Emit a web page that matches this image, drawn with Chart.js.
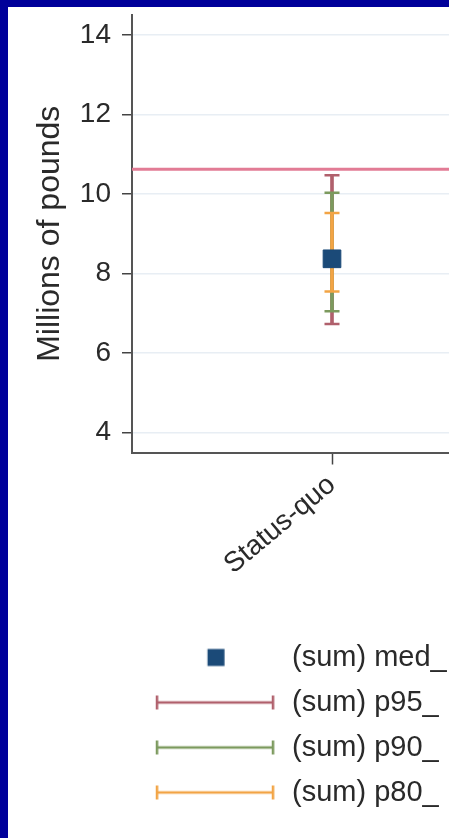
<!DOCTYPE html>
<html>
<head>
<meta charset="utf-8">
<script src="https://cdn.jsdelivr.net/npm/chart.js@4/dist/chart.umd.min.js"></script>
<style>
  html, body { margin: 0; padding: 0; overflow: hidden; background: #00009a; width: 449px; height: 838px; }
  #panel { position: absolute; left: 8px; top: 7px; width: 600px; height: 900px; background: #ffffff; }
  #c { position: absolute; left: 0; top: 0; }
</style>
</head>
<body>
<div id="panel"><canvas id="c" width="524" height="810"></canvas></div>
<script>
// ---- data ----
const categories = ['Status-quo'];
const medianValues = [8.37];
const p95Low = [6.73];
const p95High = [10.47];
const p90Low = [7.05];
const p90High = [10.03];
const p80Low = [7.55];
const p80High = [9.52];
const referenceValue = [10.62];
const yTickValues = [4, 6, 8, 10, 12, 14];
const legendLabels = ['(sum) med_', '(sum) p95_', '(sum) p90_', '(sum) p80_'];

// ---- styles ----
const colMed = '#1b4a78';
const colP95 = '#b0606c';
const colP90 = '#7c9a5e';
const colP80 = '#f2a445';
const colRef = '#e27b95';
const textCol = '#2a2a2a';
const fontFam = '"Liberation Sans", Arial, sans-serif';

function lineIcon(color) {
  const c = document.createElement('canvas');
  c.width = 130; c.height = 18;
  const g = c.getContext('2d');
  g.strokeStyle = color; g.lineWidth = 2.5;
  const x0 = 9.25, x1 = 125.25, y = 9;
  g.beginPath();
  g.moveTo(x0, y); g.lineTo(x1, y);
  g.moveTo(x0, y - 7); g.lineTo(x0, y + 7);
  g.moveTo(x1, y - 7); g.lineTo(x1, y + 7);
  g.stroke();
  return c;
}
function squareIcon(color) {
  const c = document.createElement('canvas');
  c.width = 130; c.height = 20;
  const g = c.getContext('2d');
  g.fillStyle = color;
  g.fillRect(65 + 3.25 - 8.5, 10 - 8.5, 17, 17);
  return c;
}
const legendIcons = [squareIcon(colMed), lineIcon(colP95), lineIcon(colP90), lineIcon(colP80)];

const pts = (arr) => categories.map((c, i) => ({ x: c, y: arr[i] }));
const caps = (lo, hi) => categories.flatMap((c, i) => [{ x: c, y: lo[i] }, { x: c, y: hi[i] }]);
const ranges = (lo, hi) => categories.map((c, i) => [lo[i], hi[i]]);

const capDataset = (lo, hi, color, order) => ({
  type: 'line', data: caps(lo, hi), showLine: false, order,
  pointStyle: 'line', pointRadius: 7.5, pointHoverRadius: 7.5,
  pointBorderWidth: 2.5, pointBorderColor: color, borderColor: color
});
const barDataset = (lo, hi, color, order) => ({
  type: 'bar', data: ranges(lo, hi), backgroundColor: color, borderWidth: 0,
  barThickness: 3, grouped: false, order
});

new Chart(document.getElementById('c'), {
  type: 'bar',
  data: {
    labels: categories,
    datasets: [
      { type: 'line', data: pts(medianValues), showLine: false, order: 0,
        pointStyle: 'rect', pointRadius: 12.5, pointHoverRadius: 12.5,
        pointBackgroundColor: colMed, pointBorderColor: colMed, pointBorderWidth: 1 },
      barDataset(p80Low, p80High, colP80, 1),
      capDataset(p80Low, p80High, colP80, 1),
      barDataset(p90Low, p90High, colP90, 2),
      capDataset(p90Low, p90High, colP90, 2),
      barDataset(p95Low, p95High, colP95, 3),
      capDataset(p95Low, p95High, colP95, 3),
      { type: 'line', xAxisID: 'x2', order: 4,
        data: [{ x: 0, y: referenceValue[0] }, { x: 1, y: referenceValue[0] }],
        borderColor: colRef, borderWidth: 3, pointRadius: 0, fill: false }
    ]
  },
  options: {
    responsive: false,
    animation: false,
    events: [],
    layout: { autoPadding: false, padding: { top: 8, left: 0, right: 0, bottom: 0 } },
    plugins: {
      tooltip: { enabled: false },
      legend: {
        position: 'bottom',
        align: 'start',
        fullSize: false,
        onClick: null,
        labels: {
          usePointStyle: true,
          pointStyleWidth: 129.5,
          padding: 16,
          color: textCol,
          font: { family: fontFam, size: 29 },
          generateLabels: () => legendLabels.map((t, i) => ({
            text: t, pointStyle: legendIcons[i], hidden: false,
            fillStyle: 'transparent', strokeStyle: 'transparent', lineWidth: 0,
            fontColor: textCol, datasetIndex: i
          }))
        }
      }
    },
    scales: {
      x: {
        type: 'category',
        offset: true,
        afterFit: (s) => { s.height = 174.5; s.paddingLeft = 0; s.paddingRight = 0; },
        grid: { offset: false, drawOnChartArea: false, drawTicks: true, tickLength: 12,
                tickColor: '#444', tickWidth: 1.5 },
        border: { display: true, color: '#555', width: 2 },
        ticks: { maxRotation: 40, minRotation: 40, padding: 4, color: textCol,
                 font: { family: fontFam, size: 28 } }
      },
      x2: { type: 'linear', display: false, offset: false, min: 0, max: 1 },
      y: {
        type: 'linear',
        min: 3.5, max: 14.5,
        afterFit: (s) => { s.width = 124; s.paddingTop = 0; s.paddingBottom = 0; },
        afterBuildTicks: (s) => { s.ticks = yTickValues.map(v => ({ value: v })); },
        grid: { color: '#e8eef4', lineWidth: 1.5, drawTicks: true, tickLength: 10,
                tickColor: '#444', tickWidth: 1.5 },
        border: { display: true, color: '#555', width: 2 },
        ticks: { padding: 11, color: textCol, includeBounds: false,
                 font: { family: fontFam, size: 28 } },
        title: { display: true, text: 'Millions of pounds', color: textCol,
                 padding: { top: 23, bottom: 0 },
                 font: { family: fontFam, size: 32 } }
      }
    }
  }
});
</script>
</body>
</html>
